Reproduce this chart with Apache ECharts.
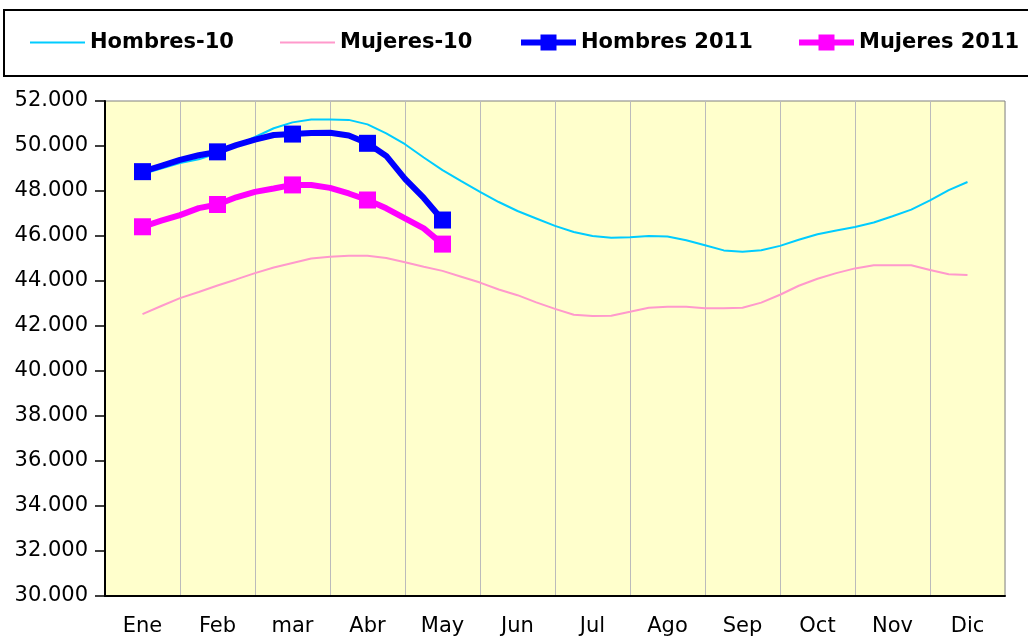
<!DOCTYPE html>
<html>
<head>
<meta charset="utf-8">
<script src="https://cdn.jsdelivr.net/npm/echarts@6/dist/echarts.min.js"></script>
<style>
  html, body { margin: 0; padding: 0; background: #fff; }
  #chart { width: 1028px; height: 637px; }
</style>
</head>
<body>
<div id="chart"></div>
<script>
// meses del eje X
var meses = ["Ene", "Feb", "mar", "Abr", "May", "Jun", "Jul", "Ago", "Sep", "Oct", "Nov", "Dic"];

// valores semanales (4 por mes), desde Ene hasta Dic
var hombres10 = [48750, 49000, 49240, 49410, 49680, 50020, 50400, 50790, 51050, 51180,
  51180, 51160, 50960, 50560, 50080, 49490, 48930, 48440, 47960, 47510,
  47110, 46780, 46450, 46180, 46000, 45920, 45940, 46000, 45980, 45810,
  45590, 45360, 45300, 45370, 45560, 45830, 46080, 46240, 46400, 46600,
  46880, 47170, 47580, 48040, 48400];
var mujeres10 = [42530, 42890, 43240, 43510, 43800, 44070, 44350, 44600, 44800, 45000,
  45080, 45120, 45120, 45020, 44830, 44630, 44450, 44190, 43930, 43620,
  43370, 43050, 42760, 42500, 42440, 42460, 42630, 42810, 42860, 42860,
  42790, 42790, 42810, 43040, 43390, 43790, 44100, 44350, 44560, 44700,
  44700, 44700, 44490, 44300, 44270];
var hombres2011 = [48860, 49120, 49380, 49590, 49740, 50040, 50280, 50490, 50530, 50580,
  50590, 50470, 50120, 49560, 48540, 47690, 46710];
var mujeres2011 = [46410, 46680, 46930, 47240, 47400, 47720, 47960, 48110, 48270, 48270,
  48140, 47890, 47600, 47230, 46780, 46340, 45640];

var yTicks = { min: 30000, max: 52000, step: 2000 };

function semanas(arr) {
  // posición en meses: 4 puntos por mes
  return arr.map(function (v, i) { return [i / 4, v]; });
}

function marcaMensual(v, p) {
  return p.dataIndex % 4 === 0 ? 17 : 0;
}

var myChart = echarts.init(document.getElementById("chart"));

var fuente = "DejaVu Sans";

function leyenda(nombre, left, marcas) {
  var l = {
    data: [marcas ? nombre : { name: nombre, icon: "rect" }],
    left: left,
    top: 32,
    padding: 0,
    itemWidth: 55,
    itemHeight: marcas ? 20 : 2,
    textStyle: { fontFamily: fuente, fontSize: 21, fontWeight: "bold", color: "#000", lineHeight: 16 }
  };
  if (marcas) l.lineStyle = { width: 6 };
  return l;
}

var option = {
  animation: false,
  backgroundColor: "#ffffff",
  graphic: [
    {
      type: "rect",
      z: -10,
      shape: { x: 4, y: 10, width: 1040, height: 66 },
      style: { fill: "#ffffff", stroke: "#000000", lineWidth: 2 }
    }
  ],
  legend: [
    leyenda("Hombres-10", 30, false),
    leyenda("Mujeres-10", 280, false),
    leyenda("Hombres 2011", 518, true),
    leyenda("Mujeres 2011", 796, true)
  ],
  grid: {
    left: 105,
    right: 23,
    top: 101,
    bottom: 41,
    show: true,
    backgroundColor: "#FFFFCC",
    borderColor: "#808080",
    borderWidth: 1
  },
  xAxis: [
    {
      type: "category",
      data: meses,
      boundaryGap: true,
      axisLine: { onZero: false, lineStyle: { color: "#000", width: 2 } },
      axisTick: { show: false },
      axisLabel: { fontFamily: fuente, fontSize: 21, color: "#000", margin: 20, interval: 0 },
      splitLine: { show: true, interval: 0, lineStyle: { color: "#BBBBBB", width: 1 } }
    },
    {
      type: "value",
      min: -0.5,
      max: 11.5,
      show: false
    }
  ],
  yAxis: {
    type: "value",
    min: yTicks.min,
    max: yTicks.max,
    interval: yTicks.step,
    axisLine: { show: true, onZero: false, lineStyle: { color: "#000", width: 2 } },
    axisTick: { show: true, length: 10, lineStyle: { color: "#000", width: 1.5 } },
    splitLine: { show: false },
    axisLabel: {
      fontFamily: fuente,
      fontSize: 21,
      color: "#000",
      margin: 17,
      formatter: function (v) { return (v / 1000) + ".000"; }
    }
  },
  series: [
    {
      name: "Hombres-10",
      type: "line",
      xAxisIndex: 1,
      data: semanas(hombres10),
      symbol: "none",
      color: "#00CCFF",
      lineStyle: { color: "#00CCFF", width: 2 },
      z: 2
    },
    {
      name: "Mujeres-10",
      type: "line",
      xAxisIndex: 1,
      data: semanas(mujeres10),
      symbol: "none",
      color: "#FF99CC",
      lineStyle: { color: "#FF99CC", width: 2 },
      z: 2
    },
    {
      name: "Hombres 2011",
      type: "line",
      xAxisIndex: 1,
      data: semanas(hombres2011),
      symbol: "rect",
      symbolSize: marcaMensual,
      showAllSymbol: true,
      color: "#0000FF",
      itemStyle: { color: "#0000FF" },
      lineStyle: { color: "#0000FF", width: 6 },
      z: 3
    },
    {
      name: "Mujeres 2011",
      type: "line",
      xAxisIndex: 1,
      data: semanas(mujeres2011),
      symbol: "rect",
      symbolSize: marcaMensual,
      showAllSymbol: true,
      color: "#FF00FF",
      itemStyle: { color: "#FF00FF" },
      lineStyle: { color: "#FF00FF", width: 6 },
      z: 3
    }
  ]
};

myChart.setOption(option);
</script>
</body>
</html>
